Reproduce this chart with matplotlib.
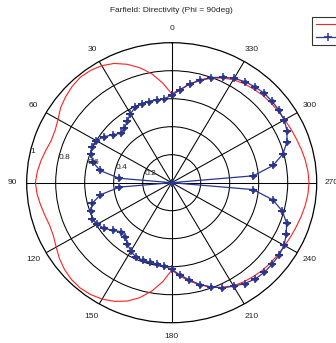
import numpy as np
import matplotlib.pyplot as plt
from matplotlib.transforms import offset_copy

plt.rcParams['font.family'] = ['Liberation Sans', 'DejaVu Sans']

# angles in degrees, 0 at top, counter-clockwise
theta_deg = np.arange(0, 361, 5)

# red curve (simulation)
sim_r = [0.635, 0.715, 0.79, 0.85, 0.90, 0.94, 0.965, 0.978, 0.982, 0.972,
         0.955, 0.935, 0.905, 0.887, 0.884, 0.898, 0.915, 0.93, 0.94, 0.932,
         0.918, 0.905, 0.895, 0.90, 0.92, 0.945, 0.965, 0.978, 0.982, 0.975,
         0.96, 0.935, 0.90, 0.85, 0.785, 0.71, 0.625,
         0.67, 0.715, 0.755, 0.795, 0.825, 0.85, 0.865, 0.875, 0.885, 0.89,
         0.895, 0.90, 0.907, 0.915, 0.925, 0.935, 0.943, 0.947, 0.943, 0.935,
         0.925, 0.915, 0.907, 0.90, 0.895, 0.89, 0.885, 0.875, 0.865, 0.85,
         0.825, 0.795, 0.755, 0.715, 0.67, 0.635]

# blue curve (measured)
meas_r = [0.626, 0.60, 0.60, 0.60, 0.60, 0.594, 0.569, 0.535, 0.507, 0.498,
          0.532, 0.571, 0.602, 0.609, 0.593, 0.561, 0.502, 0.363, 0.0, 0.362,
          0.50, 0.566, 0.593, 0.607, 0.593, 0.569, 0.529, 0.495, 0.506, 0.532,
          0.565, 0.585, 0.587, 0.588, 0.589, 0.598, 0.619,
          0.662, 0.706, 0.753, 0.792, 0.828, 0.854, 0.879, 0.897, 0.905, 0.904,
          0.904, 0.895, 0.872, 0.843, 0.791, 0.709, 0.564, 0.0, 0.565, 0.71,
          0.794, 0.845, 0.878, 0.895, 0.903, 0.904, 0.903, 0.894, 0.881, 0.861,
          0.831, 0.799, 0.76, 0.716, 0.665, 0.626]

spoke_angles = list(range(0, 360, 30))
ring_values = [0.2, 0.4, 0.6, 0.8, 1.0]
ring_labels = ['0.2', '0.4', '0.6', '0.8', '1']

W, H = 336, 343
fig = plt.figure(figsize=(W / 100, H / 100), dpi=100)
cx, cy, rx, ry = 171.7, 182.7, 145, 140
ax = fig.add_axes([(cx - rx) / W, (H - cy - ry) / H, 2 * rx / W, 2 * ry / H],
                  projection='polar')
ax.set_aspect('auto')
ax.set_theta_zero_location('N')
ax.set_theta_direction(1)
ax.set_ylim(0, 1)

ax.set_thetagrids(spoke_angles)
ax.set_rgrids(ring_values[:-1])
ax.set_xticklabels([])
ax.set_yticklabels([])
ax.grid(True, color='black', lw=0.75)
ax.spines['polar'].set_color('black')
ax.spines['polar'].set_linewidth(0.9)
ax.tick_params(length=0)

th = np.deg2rad(theta_deg)
ax.plot(th, sim_r, color='#ff2020', lw=0.8, label='Simulated')
ax.plot(th, meas_r, color='#2a3590', lw=0.9, marker='+', ms=5.5,
        mew=1.1, label='Measured')
ax.plot(th, meas_r, ls='none', marker='D', ms=2.2, color='#2a3590')

for a in spoke_angles:
    ax.text(np.deg2rad(a), 1.1, str(a), ha='center', va='center',
            fontsize=6, color='#222222')
lab_tr = offset_copy(ax.transData, fig=fig, x=4, y=0, units='dots')
for r, lab in zip(ring_values, ring_labels):
    ax.text(np.deg2rad(79), r + 0.02, lab, ha='left', va='bottom',
            fontsize=6, color='#222222', transform=lab_tr, zorder=6)

fig.text(cx / W, 1 - 10 / H, 'Farfield: Directivity (Phi = 90deg)',
         ha='center', va='center', fontsize=6, color='#222222')

leg = fig.legend(loc='upper left', bbox_to_anchor=(312 / W, 1 - 17 / H),
                 fontsize=6, frameon=True, fancybox=False, borderaxespad=0,
                 handlelength=3, labelspacing=0.6, borderpad=0.45)
leg.get_frame().set_edgecolor('black')
leg.get_frame().set_linewidth(0.8)

fig.savefig('out.png', dpi=100)
